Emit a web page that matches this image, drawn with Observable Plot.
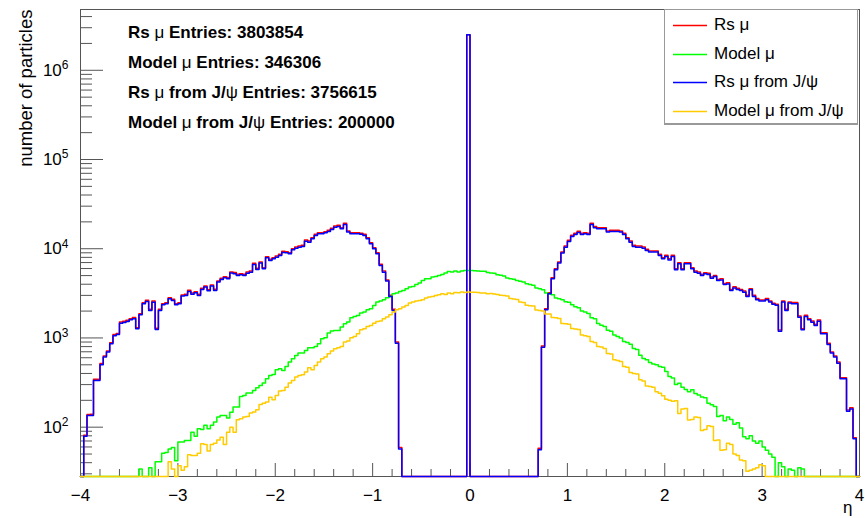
<!DOCTYPE html>
<html>
<head>
<meta charset="utf-8">
<script src="https://cdn.jsdelivr.net/npm/d3@7"></script>
<script src="https://cdn.jsdelivr.net/npm/@observablehq/plot@0.6"></script>
<style>
  html, body { margin: 0; padding: 0; background: #fff; }
  #wrap { position: relative; width: 865px; height: 518px; font-family: "Liberation Sans", Arial, Helvetica, sans-serif; color: #000; }
  #wrap > svg { position: absolute; left: 0; top: 0; }
  .stat { position: absolute; left: 128px; font-size: 17px; font-weight: bold; line-height: 20px; white-space: nowrap; }
  .stat .g { font-weight: normal; }
  #legend { position: absolute; left: 664px; top: 9px; width: 194px; height: 116px; background: #fff; border: 1px solid #999; border-bottom: 2px solid #999; box-sizing: border-box; }
  .lg-row { position: absolute; left: 0; height: 20px; line-height: 20px; font-size: 17px; white-space: nowrap; }
  .lg-line { position: absolute; left: 8px; top: 9px; }
  .lg-text { position: absolute; left: 49px; top: 0; }
</style>
</head>
<body>
<div id="wrap"></div>
<script>
// ---------------- data ----------------
const seriesNames = ["Rs μ", "Model μ", "Rs μ from J/ψ", "Model μ from J/ψ"];
const seriesColors = ["#ff0000", "#00ff00", "#0000ff", "#ffcc00"];
const seriesEntries = [3803854, 346306, 3756615, 200000];

const etaMin = -4, etaMax = 4, binCount = 240;
const yMin = 28, yMax = 4.8e6;

const xMajorTicks = [-4, -3, -2, -1, 0, 1, 2, 3, 4];
const yMajorTicks = [1e2, 1e3, 1e4, 1e5, 1e6];

// Rs mu (red)
const rsMu = [
0,81,139,140,344,345,516,628,716,886,1092,1124,1509,1536,1577,1645,1690,1305,1872,2487,
2640,2093,2594,1282,2092,2421,2487,2831,2709,2421,2487,3033,3083,3419,3191,3303,3083,3600,3825,3480,
3925,3509,4355,4666,4867,4745,5491,5398,5166,5259,5163,5480,5630,6865,6035,7107,6139,8148,7610,7938,
8288,8657,9360,9277,9041,10016,10455,10733,10918,12525,12206,13308,14513,15141,15141,15543,16089,16934,17984,18314,
17222,19272,15811,15141,15141,15141,14935,14513,13308,11691,10280,9041,6685,5630,4465,3006,2093,901,59,0,
0,0,0,0,0,0,0,0,0,0,0,0,0,0,0,0,0,0,0,2500000,
0,0,0,0,0,0,0,0,0,0,0,0,0,0,0,0,0,0,0,0,
0,58,813,2128,3218,4743,5981,7107,9198,10733,12422,14152,14894,15677,14894,15141,14894,19272,17695,17222,
17222,17222,15811,16089,16089,16089,15811,14894,13308,12206,10918,10733,10733,10455,9847,9445,9445,9445,8656,7937,
8425,7725,8425,5981,6983,5981,6983,6983,6139,5630,5480,5162,5393,5305,4815,5026,4527,4604,4079,4151,
3502,3749,3595,3502,3358,3006,3564,3006,2760,2668,2668,2760,2601,2451,2390,1228,2601,2093,2534,2493,
2493,1761,1270,1792,1645,1548,1421,1586,1145,1145,870,696,628,538,358,358,156,165,76,0
];

// Model mu (green)
const modelMu = [
0,0,0,0,0,0,0,0,0,0,0,0,0,0,0,0,0,0,34,0,
0,35,0,41,41,51,52,57,59,42,68,68,71,71,88,79,96,94,105,96,
105,114,130,135,135,127,147,168,168,221,227,241,241,258,276,294,312,349,380,390,
440,452,433,480,536,585,637,676,676,725,776,776,804,861,980,1005,1133,1194,1214,1214,
1324,1442,1507,1684,1743,1788,1900,1950,2070,2124,2315,2524,2590,2680,2820,2920,3126,3182,3320,3410,
3560,3716,3780,3985,4124,4418,4611,4611,4813,4895,5025,5157,5338,5570,5475,5615,5475,5615,5700,5700,
5700,5650,5640,5600,5580,5420,5340,5300,5100,5040,4950,4700,4620,4560,4400,4320,4250,4050,3980,3900,
3620,3560,3480,3200,3130,3050,2800,2750,2680,2550,2520,2350,2230,2180,2000,1950,1880,1680,1640,1450,
1390,1340,1220,1190,1080,1040,1000,910,890,850,760,740,640,590,570,530,510,500,480,470,
420,370,355,300,310,280,265,250,262,238,230,218,214,185,178,170,132,135,118,130,
122,108,112,98,78,74,80,70,66,70,60,55,50,46,0,40,36,0,34,33,
0,35,34,0,0,0,0,0,0,0,0,0,0,0,0,0,0,0,0,0
];

// Rs mu from J/psi (blue)
const rsMuJpsi = [
0,79,135,135,334,334,500,610,694,860,1060,1090,1465,1490,1530,1597,1640,1266,1817,2414,
2563,2031,2518,1244,2031,2350,2414,2748,2630,2350,2414,2944,2993,3319,3098,3206,2993,3495,3713,3378,
3810,3406,4228,4530,4725,4606,5331,5240,5015,5105,5012,5320,5466,6665,5859,6900,5960,7910,7388,7706,
8046,8404,9087,9006,8777,9724,10150,10420,10600,12160,11850,12920,14090,14700,14700,15090,15620,16440,17460,17780,
16720,18710,15350,14700,14700,14700,14500,14090,12920,11350,9980,8777,6490,5466,4335,2918,2032,875,57,0,
0,0,0,0,0,0,0,0,0,0,0,0,0,0,0,0,0,0,0,2500000,
0,0,0,0,0,0,0,0,0,0,0,0,0,0,0,0,0,0,0,0,
0,56,789,2066,3124,4605,5807,6900,8930,10420,12060,13740,14460,15220,14460,14700,14460,18710,17180,16720,
16720,16720,15350,15620,15620,15620,15350,14460,12920,11850,10600,10420,10420,10150,9560,9170,9170,9170,8404,7706,
8180,7500,8180,5807,6780,5807,6780,6780,5960,5466,5320,5012,5236,5150,4675,4880,4395,4470,3960,4030,
3400,3640,3490,3400,3260,2918,3460,2918,2680,2590,2590,2680,2525,2380,2320,1192,2525,2032,2460,2420,
2420,1710,1233,1740,1597,1503,1380,1540,1112,1112,845,676,610,522,348,348,151,160,74,0
];

// Model mu from J/psi (yellow)
const modelMuJpsi = [
0,0,0,0,0,0,0,0,0,0,0,0,0,0,0,0,0,0,0,0,
0,0,0,0,0,0,0,41,34,0,37,33,36,49,48,48,51,65,64,54,
64,66,72,77,64,88,100,88,121,124,130,132,144,148,157,180,186,191,217,203,
227,254,258,281,312,334,364,380,386,414,463,440,492,536,585,610,665,713,757,776,
804,898,922,1005,1040,1114,1236,1268,1346,1380,1466,1531,1545,1640,1713,1820,1950,2070,2124,2218,
2315,2460,2524,2590,2636,2680,2800,2873,2920,3000,3050,3126,3075,3182,3126,3236,3212,3265,3236,3265,
3250,3260,3230,3200,3180,3130,3140,3100,3060,3010,2990,2960,2760,2740,2700,2530,2500,2330,2300,2280,
2060,2030,2000,1860,1850,1700,1680,1650,1450,1440,1420,1280,1260,1240,1080,1060,1040,910,890,800,
790,760,670,660,570,560,545,480,470,410,400,395,340,330,290,285,280,250,240,225,
205,200,195,198,142,160,162,120,122,130,128,92,94,104,102,71,72,55,56,66,
64,50,48,43,42,32,33,34,35,38,37,0,0,0,0,0,0,0,0,0,
0,0,0,0,0,0,0,0,0,0,0,0,0,0,0,0,0,0,0,0
];

const seriesValues = [rsMu, modelMu, rsMuJpsi, modelMuJpsi];

// ---------------- derived ----------------
const binWidth = (etaMax - etaMin) / binCount;
function stepData(values) {
  const pts = values.map((v, i) => ({eta: etaMin + i * binWidth, n: Math.max(v, yMin)}));
  pts.push({eta: etaMax, n: Math.max(values[values.length - 1], yMin)});
  return pts;
}
const xMinorTicks = d3.range(-40, 41, 2).map(i => i / 10).filter(v => Math.abs(v - Math.round(v)) > 1e-6);
const yMinorTicks = [];
for (let e = 1; e <= 6; e++) for (let k = 2; k <= 9; k++) {
  const v = k * Math.pow(10, e);
  if (v > yMin && v < yMax) yMinorTicks.push(v);
}

const W = 865, H = 518;
const mL = 80, mR = 6, mT = 9, mB = 42;
const frameW = W - mL - mR, frameH = H - mT - mB;
const axisColor = "#555";

const histMarks = seriesValues.map((vals, s) =>
  Plot.line(stepData(vals), {x: "eta", y: "n", curve: "step-after", stroke: seriesColors[s], strokeWidth: 1.5})
);

const chart = Plot.plot({
  width: W, height: H,
  marginLeft: mL, marginRight: mR, marginTop: mT, marginBottom: mB,
  style: {fontFamily: "'Liberation Sans', Arial, Helvetica, sans-serif", color: "#000", background: "transparent"},
  x: {domain: [etaMin, etaMax]},
  y: {type: "log", domain: [yMin, yMax]},
  marks: [
    Plot.frame({stroke: axisColor, strokeWidth: 1}),
    Plot.tickX(xMajorTicks, {x: d => d, insetTop: frameH - 13, stroke: axisColor}),
    Plot.tickX(xMinorTicks, {x: d => d, insetTop: frameH - 7, stroke: axisColor}),
    Plot.tickY(yMajorTicks, {y: d => d, insetRight: frameW - 23, stroke: axisColor}),
    Plot.tickY(yMinorTicks, {y: d => d, insetRight: frameW - 12, stroke: axisColor}),
    Plot.axisX(xMajorTicks, {tickSize: 0, tickPadding: 12, fontSize: 17, label: null,
      tickFormat: d => d < 0 ? "\u2212" + Math.abs(d) : String(d)}),
    Plot.axisY(yMajorTicks, {tickSize: 0, tickPadding: 12, fontSize: 17, label: null,
      tickFormat: d => "10^" + Math.round(Math.log10(d))}),
    Plot.text(["η"], {frameAnchor: "bottom-right", dx: -7, dy: 36, textAnchor: "end", lineAnchor: "bottom", fontSize: 17}),
    Plot.text(["number of particles"], {frameAnchor: "top-left", rotate: -90, textAnchor: "end", dx: -62, dy: 0, fontSize: 18.5}),
    ...histMarks
  ]
});

// superscript exponents on y tick labels
const NS = "http://www.w3.org/2000/svg";
chart.querySelectorAll("text").forEach(t => {
  const m = (t.textContent || "").match(/^10\^(\d+)$/);
  if (!m) return;
  t.textContent = "";
  const base = document.createElementNS(NS, "tspan");
  base.textContent = "10";
  const sup = document.createElementNS(NS, "tspan");
  sup.setAttribute("dy", "-0.55em");
  sup.setAttribute("font-size", "12");
  sup.textContent = m[1];
  t.appendChild(base); t.appendChild(sup);
});

const wrap = document.getElementById("wrap");
wrap.appendChild(chart);

// stats box text
function greekSplit(name) {
  return name.replace(/([μψ])/g, '<span class="g">$1</span>');
}
seriesNames.forEach((name, i) => {
  const d = document.createElement("div");
  d.className = "stat";
  d.style.top = (23 + 30 * i) + "px";
  d.innerHTML = greekSplit(name) + " Entries: " + seriesEntries[i];
  wrap.appendChild(d);
});

// legend
const lg = document.createElement("div");
lg.id = "legend";
seriesNames.forEach((name, i) => {
  const row = document.createElement("div");
  row.className = "lg-row";
  row.style.top = (5 + 28.7 * i) + "px";
  row.style.width = "100%";
  const ln = document.createElementNS(NS, "svg");
  ln.setAttribute("class", "lg-line");
  ln.setAttribute("width", "34");
  ln.setAttribute("height", "3");
  const l = document.createElementNS(NS, "line");
  l.setAttribute("x1", "0"); l.setAttribute("x2", "34");
  l.setAttribute("y1", "1.5"); l.setAttribute("y2", "1.5");
  l.setAttribute("stroke", seriesColors[i]);
  l.setAttribute("stroke-width", "1.5");
  ln.appendChild(l);
  const tx = document.createElement("div");
  tx.className = "lg-text";
  tx.textContent = name;
  row.appendChild(ln); row.appendChild(tx);
  lg.appendChild(row);
});
wrap.appendChild(lg);
</script>
</body>
</html>
